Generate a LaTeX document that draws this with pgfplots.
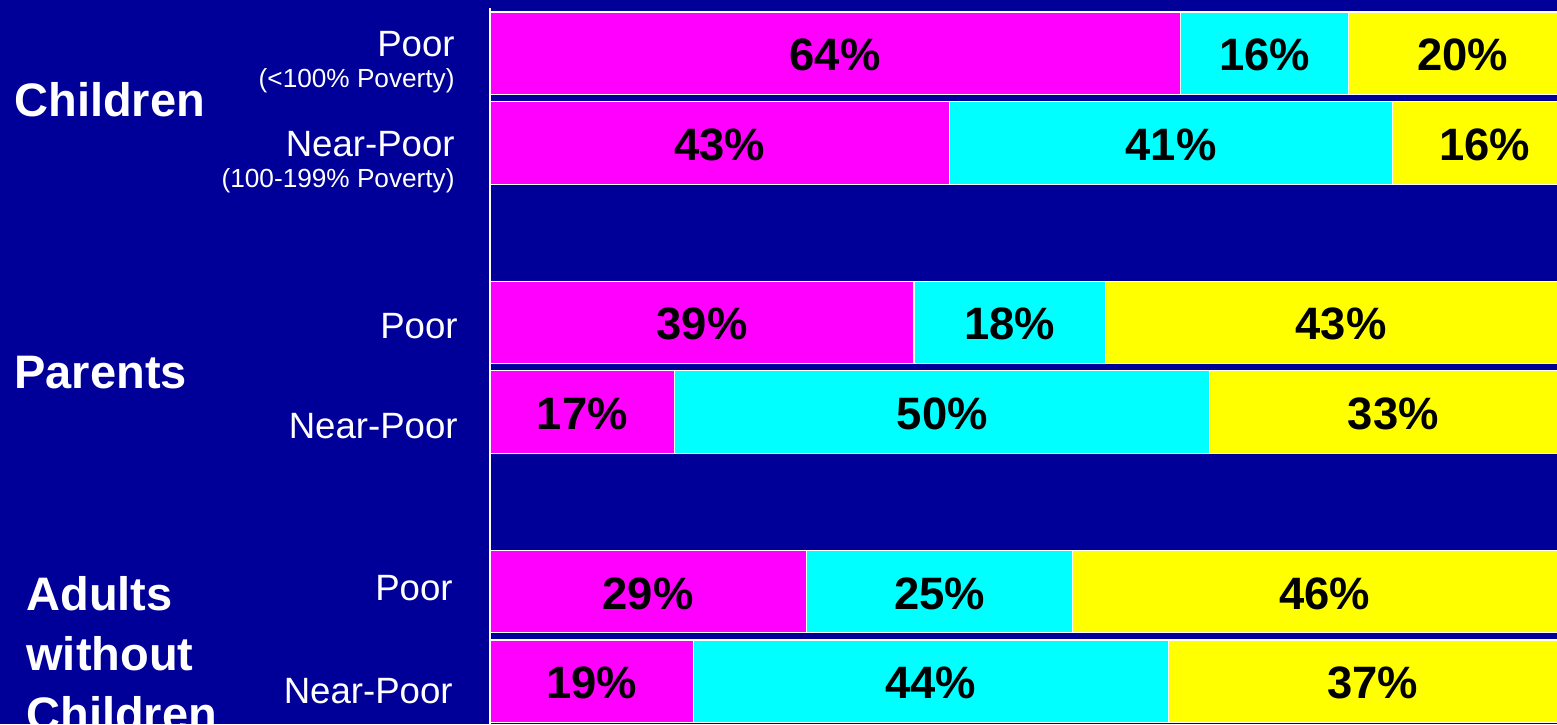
\documentclass[border=0pt]{standalone}
\usepackage{pgfplots}
\pgfplotsset{compat=1.18}
\usepackage{pgfplotstable}
\usepackage{fontspec}
\setmainfont{Liberation Sans}
\definecolor{bg}{RGB}{0,0,153}
\definecolor{mag}{RGB}{255,0,255}
\definecolor{cy}{RGB}{0,255,255}
\definecolor{yel}{RGB}{255,255,0}

\pgfplotstableread{
row a b c
0 63.5 15.5 21.0
1 42.3 40.7 17.0
3 39.0 17.6 43.4
4 17.0 49.2 33.8
6 29.1 24.5 46.4
7 18.7 43.7 37.6
}\bars

\pgfplotstableread{
x y v
31.75 0 64
71.25 0 16
89.5 0 20
21.15 1 43
62.65 1 41
91.5 1 16
19.5 3 39
47.8 3 18
78.3 3 43
8.5 4 17
41.6 4 50
83.1 4 33
14.55 6 29
41.35 6 25
76.8 6 46
9.35 7 19
40.55 7 44
81.2 7 37
}\labels

\begin{document}
\begin{tikzpicture}
\useasboundingbox (0,0) rectangle (778.5pt,362pt);
\fill[bg] (0,0) rectangle (778.5pt,362pt);
\pgfplotsset{common/.style={at={(245pt,-1pt)}, anchor=south west, scale only axis,
  width=543.5pt, height=358.8pt, xmin=0, xmax=100, ymin=-0.5, ymax=7.5,
  y dir=reverse, hide axis, clip=false}}
\begin{axis}[common, xbar stacked, bar width=0.92]
\addplot[fill=mag, draw=white, line width=0.6pt] table[x=a,y=row]{\bars};
\addplot[fill=cy, draw=white, line width=0.6pt] table[x=b,y=row]{\bars};
\addplot[fill=yel, draw=white, line width=0.6pt] table[x=c,y=row]{\bars};
\draw[white, line width=0.7pt] (axis cs:0,-0.5) -- (axis cs:0,7.5);
\end{axis}
\begin{axis}[common]
\addplot[draw=none, mark=none, point meta=explicit symbolic,
  nodes near coords={\pgfplotspointmeta\%},
  nodes near coords align=center,
  every node near coord/.append style={anchor=center, inner sep=0pt, text=black, yshift=-1pt,
    font=\fontsize{22.7pt}{27pt}\selectfont\bfseries}]
  table[x=x,y=y,meta=v]{\labels};
\end{axis}
% category labels
\begin{scope}[every node/.style={text=white, inner sep=0pt}]
\node[anchor=base east, font=\fontsize{18.3pt}{22pt}\selectfont] at (227.5pt,333.5pt) {Poor};
\node[anchor=base east, font=\fontsize{13.1pt}{16pt}\selectfont] at (227.5pt,318pt) {(<100\% Poverty)};
\node[anchor=base east, font=\fontsize{18.3pt}{22pt}\selectfont] at (227.5pt,283.5pt) {Near-Poor};
\node[anchor=base east, font=\fontsize{13.1pt}{16pt}\selectfont] at (227.5pt,268pt) {(100-199\% Poverty)};
\node[anchor=base east, font=\fontsize{18.3pt}{22pt}\selectfont] at (229pt,193pt) {Poor};
\node[anchor=base east, font=\fontsize{18.3pt}{22pt}\selectfont] at (229pt,143pt) {Near-Poor};
\node[anchor=base east, font=\fontsize{18.3pt}{22pt}\selectfont] at (226.5pt,62pt) {Poor};
\node[anchor=base east, font=\fontsize{18.3pt}{22pt}\selectfont] at (226.5pt,10.5pt) {Near-Poor};
\node[anchor=base west, font=\fontsize{23.5pt}{28pt}\selectfont\bfseries] at (7pt,303.5pt) {Children};
\node[anchor=base west, font=\fontsize{23.5pt}{28pt}\selectfont\bfseries] at (7pt,168pt) {Parents};
\node[anchor=base west, font=\fontsize{23.5pt}{28pt}\selectfont\bfseries] at (13pt,57pt) {Adults};
\node[anchor=base west, font=\fontsize{23.5pt}{28pt}\selectfont\bfseries] at (13pt,27pt) {without};
\node[anchor=base west, font=\fontsize{23.5pt}{28pt}\selectfont\bfseries] at (13pt,-3pt) {Children};
\end{scope}
\end{tikzpicture}
\end{document}
